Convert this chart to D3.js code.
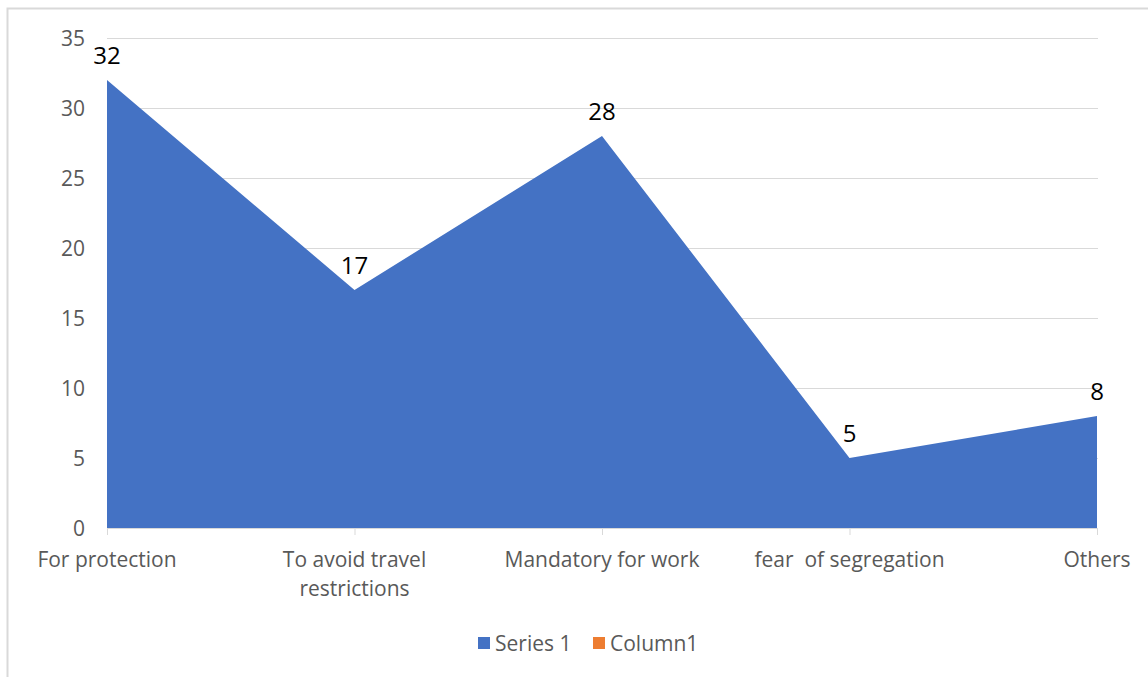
<!DOCTYPE html>
<html>
<head>
<meta charset="utf-8">
<script src="https://cdn.jsdelivr.net/npm/d3@7"></script>
<style>
  html, body { margin: 0; padding: 0; background: #fff; }
  svg { display: block; font-family: "Open Sans", "Noto Sans", sans-serif; }
</style>
</head>
<body>
<svg id="chart" width="1148" height="677"></svg>
<script>
// Reasons for use, with counts per reason
const categories = ["For protection", "To avoid travel restrictions", "Mandatory for work", "fear  of segregation", "Others"];
const series1 = [32, 17, 28, 5, 8];
const yTicks = [0, 5, 10, 15, 20, 25, 30, 35];
const legendNames = ["Series 1", "Column1"];
const legendColors = ["#4472c4", "#ed7d31"];

const svg = d3.select("#chart");

// Chart frame
svg.append("path")
  .attr("d", "M7.5,677 V8.5 H1148")
  .attr("fill", "none")
  .attr("stroke", "#d9d9d9")
  .attr("stroke-width", 2);

const x = d3.scalePoint().domain(categories).range([107, 1097]);
const y = d3.scaleLinear().domain([0, 35]).range([528, 38]);

// Horizontal gridlines
svg.append("g")
  .selectAll("line")
  .data(yTicks.filter(d => d > 0))
  .join("line")
  .attr("x1", 107).attr("x2", 1098)
  .attr("y1", d => y(d) + 0.5).attr("y2", d => y(d) + 0.5)
  .attr("stroke", "#d9d9d9").attr("stroke-width", 1);

// Filled area
const area = d3.area()
  .x((d, i) => x(categories[i]))
  .y0(y(0))
  .y1(d => y(d));

svg.append("path")
  .datum(series1)
  .attr("d", area)
  .attr("fill", "#4472c4");

// X axis line and ticks
svg.append("line")
  .attr("x1", 107).attr("x2", 1098)
  .attr("y1", y(0) + 0.5).attr("y2", y(0) + 0.5)
  .attr("stroke", "#d9d9d9").attr("stroke-width", 1);

svg.append("g")
  .selectAll("line")
  .data(categories)
  .join("line")
  .attr("x1", d => x(d) + 0.5).attr("x2", d => x(d) + 0.5)
  .attr("y1", y(0)).attr("y2", y(0) + 7)
  .attr("stroke", "#d9d9d9");

// Y axis tick labels
svg.append("g")
  .selectAll("text")
  .data(yTicks)
  .join("text")
  .attr("x", 85)
  .attr("y", d => y(d))
  .attr("dy", "0.36em")
  .attr("text-anchor", "end")
  .attr("fill", "#595959")
  .attr("font-size", 21)
  .text(d => d);

// Category labels (wrapped)
const catLines = {
  "To avoid travel restrictions": ["To avoid travel", "restrictions"]
};
const catG = svg.append("g");
categories.forEach(c => {
  const lines = catLines[c] || [c];
  const t = catG.append("text")
    .attr("text-anchor", "middle")
    .attr("fill", "#595959")
    .attr("font-size", 21)
    .attr("xml:space", "preserve");
  lines.forEach((ln, i) => {
    t.append("tspan")
      .attr("x", x(c))
      .attr("y", 567 + i * 29)
      .text(ln);
  });
});

// Data labels
svg.append("g")
  .selectAll("text")
  .data(series1)
  .join("text")
  .attr("x", (d, i) => x(categories[i]))
  .attr("y", d => y(d) - 16)
  .attr("text-anchor", "middle")
  .attr("fill", "#000")
  .attr("font-size", 24)
  .text(d => d);

// Legend
const legend = svg.append("g");
const legendX = [478, 593];
legendNames.forEach((name, i) => {
  legend.append("rect")
    .attr("x", legendX[i]).attr("y", 637)
    .attr("width", 12).attr("height", 12)
    .attr("fill", legendColors[i]);
  legend.append("text")
    .attr("x", legendX[i] + 17).attr("y", 643)
    .attr("dy", "0.36em")
    .attr("fill", "#595959")
    .attr("font-size", 21)
    .text(name);
});
</script>
</body>
</html>
